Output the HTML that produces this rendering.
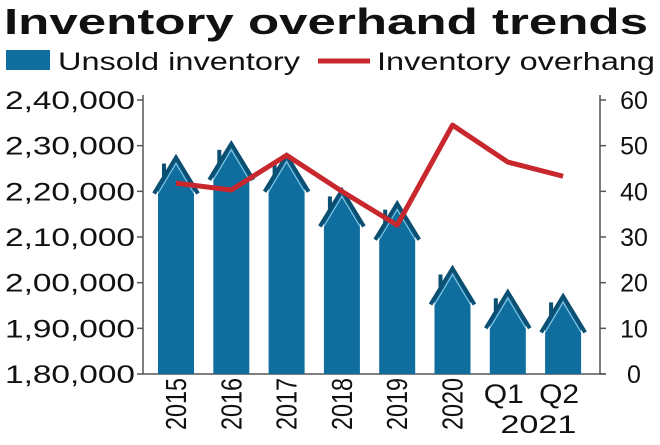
<!DOCTYPE html>
<html><head><meta charset="utf-8"><style>
body{margin:0;background:#fff;width:660px;height:440px;overflow:hidden;font-family:"Liberation Sans",sans-serif}
</style></head><body>
<svg id="c" width="660" height="440" xmlns="http://www.w3.org/2000/svg">
<text x="4" y="34" font-size="36" font-weight="bold" fill="#111" textLength="644" lengthAdjust="spacingAndGlyphs">Inventory overhand trends</text>
<g>
<rect x="6" y="50" width="44" height="20" fill="#0f6e9e"/>
<text x="58" y="70" font-size="25" fill="#111" textLength="242" lengthAdjust="spacingAndGlyphs">Unsold inventory</text>
<line x1="318" y1="61" x2="370" y2="61" stroke="#c8282d" stroke-width="5"/>
<text x="377" y="70" font-size="25" fill="#111" textLength="278" lengthAdjust="spacingAndGlyphs">Inventory overhang</text>
</g>
<g id="axes"></g><g id="bars"></g><g id="line"></g><g id="labels"></g>
</svg>
<script>
const categories=["2015","2016","2017","2018","2019","2020","Q1","Q2"];
const unsold=[227400,230400,227800,220200,217300,203100,197900,197000];
const overhang=[41.8,40.3,47.9,40.0,32.6,54.5,46.4,43.3];
const leftTicks=[180000,190000,200000,210000,220000,230000,240000];
const leftTickLabels=["1,80,000","1,90,000","2,00,000","2,10,000","2,20,000","2,30,000","2,40,000"];
const rightTicks=[0,10,20,30,40,50,60];
const NS="http://www.w3.org/2000/svg";
const y0=374,y1=100,xL=143,xR=600;
const yL=v=>y0-(v-180000)/60000*(y0-y1);
const yR=v=>y0-v/60*(y0-y1);
const xC=i=>176+i*55.3;
function mk(t,a,p){const e=document.createElementNS(NS,t);for(const k in a)e.setAttribute(k,a[k]);p.appendChild(e);return e;}
const ax=document.getElementById('axes');
let e=mk('line',{x1:xL,y1:y1-5,x2:xL,y2:y0,stroke:'#555','stroke-width':1.5},ax);

e=mk('line',{x1:xR,y1:y1-5,x2:xR,y2:y0,stroke:'#555','stroke-width':1.5},ax);

e=mk('line',{x1:xL,y1:y0,x2:xR+6,y2:y0,stroke:'#555','stroke-width':1.5},ax);

leftTicks.forEach((v,i)=>{const y=yL(v);
 let t=mk('line',{x1:xL-6,y1:y,x2:xL,y2:y,stroke:'#555','stroke-width':1.5},ax);
 
 let l=mk('text',{x:5,y:y+9,'font-size':25,fill:'#111',textLength:130,lengthAdjust:'spacingAndGlyphs'},ax);l.textContent=leftTickLabels[i];
 });
rightTicks.forEach(v=>{const y=yR(v);
 let t=mk('line',{x1:xR,y1:y,x2:xR+6,y2:y,stroke:'#555','stroke-width':1.5},ax);
 
 let l=mk('text',{x:634,y:y+9,'font-size':25,'text-anchor':'middle',fill:'#111'},ax);l.textContent=v;
 });
const bg=document.getElementById('bars');
unsold.forEach((v,i)=>{const c=xC(i),p=yL(v),hw=18,roof=32,eave=p+roof;
 const g=mk('g',{},bg);
 
 mk('rect',{x:c-hw,y:eave-4,width:hw*2,height:y0-eave+4,fill:'#0f6e9e'},g);
 mk('rect',{x:c-14,y:p+6,width:4,height:18,fill:'#0b4f73'},g);
 mk('polygon',{points:`${c-hw},${eave} ${c},${p+4} ${c+hw},${eave}`,fill:'#0f6e9e'},g);
 mk('polyline',{points:`${c-22},${eave+4} ${c},${p} ${c+22},${eave+4}`,fill:'none',stroke:'#0b4f73','stroke-width':4},g);
 mk('polyline',{points:`${c-18},${eave+4} ${c},${p+6} ${c+18},${eave+4}`,fill:'none',stroke:'#8fd3f0','stroke-width':1},g);});
const lg=document.getElementById('line');
e=mk('polyline',{points:overhang.map((v,i)=>xC(i)+','+yR(v)).join(' '),fill:'none',stroke:'#c8282d','stroke-width':5,'stroke-linejoin':'round'},lg);

const lb=document.getElementById('labels');
categories.forEach((c,i)=>{let t;
 if(c.startsWith('Q')){t=mk('text',{x:xC(i)-4,y:403,'font-size':27,'text-anchor':'middle',fill:'#111',textLength:40,lengthAdjust:'spacingAndGlyphs'},lb);}
 else{t=mk('text',{x:0,y:0,'font-size':29,'text-anchor':'end',fill:'#111',textLength:52,lengthAdjust:'spacingAndGlyphs',transform:`translate(${xC(i)+10},378) rotate(-90)`},lb);}
 t.textContent=c;});
e=mk('text',{x:(xC(6)+xC(7))/2+3,y:433,'font-size':25,'text-anchor':'middle',fill:'#111',textLength:76,lengthAdjust:'spacingAndGlyphs'},lb);e.textContent='2021';

</script>
</body></html>
